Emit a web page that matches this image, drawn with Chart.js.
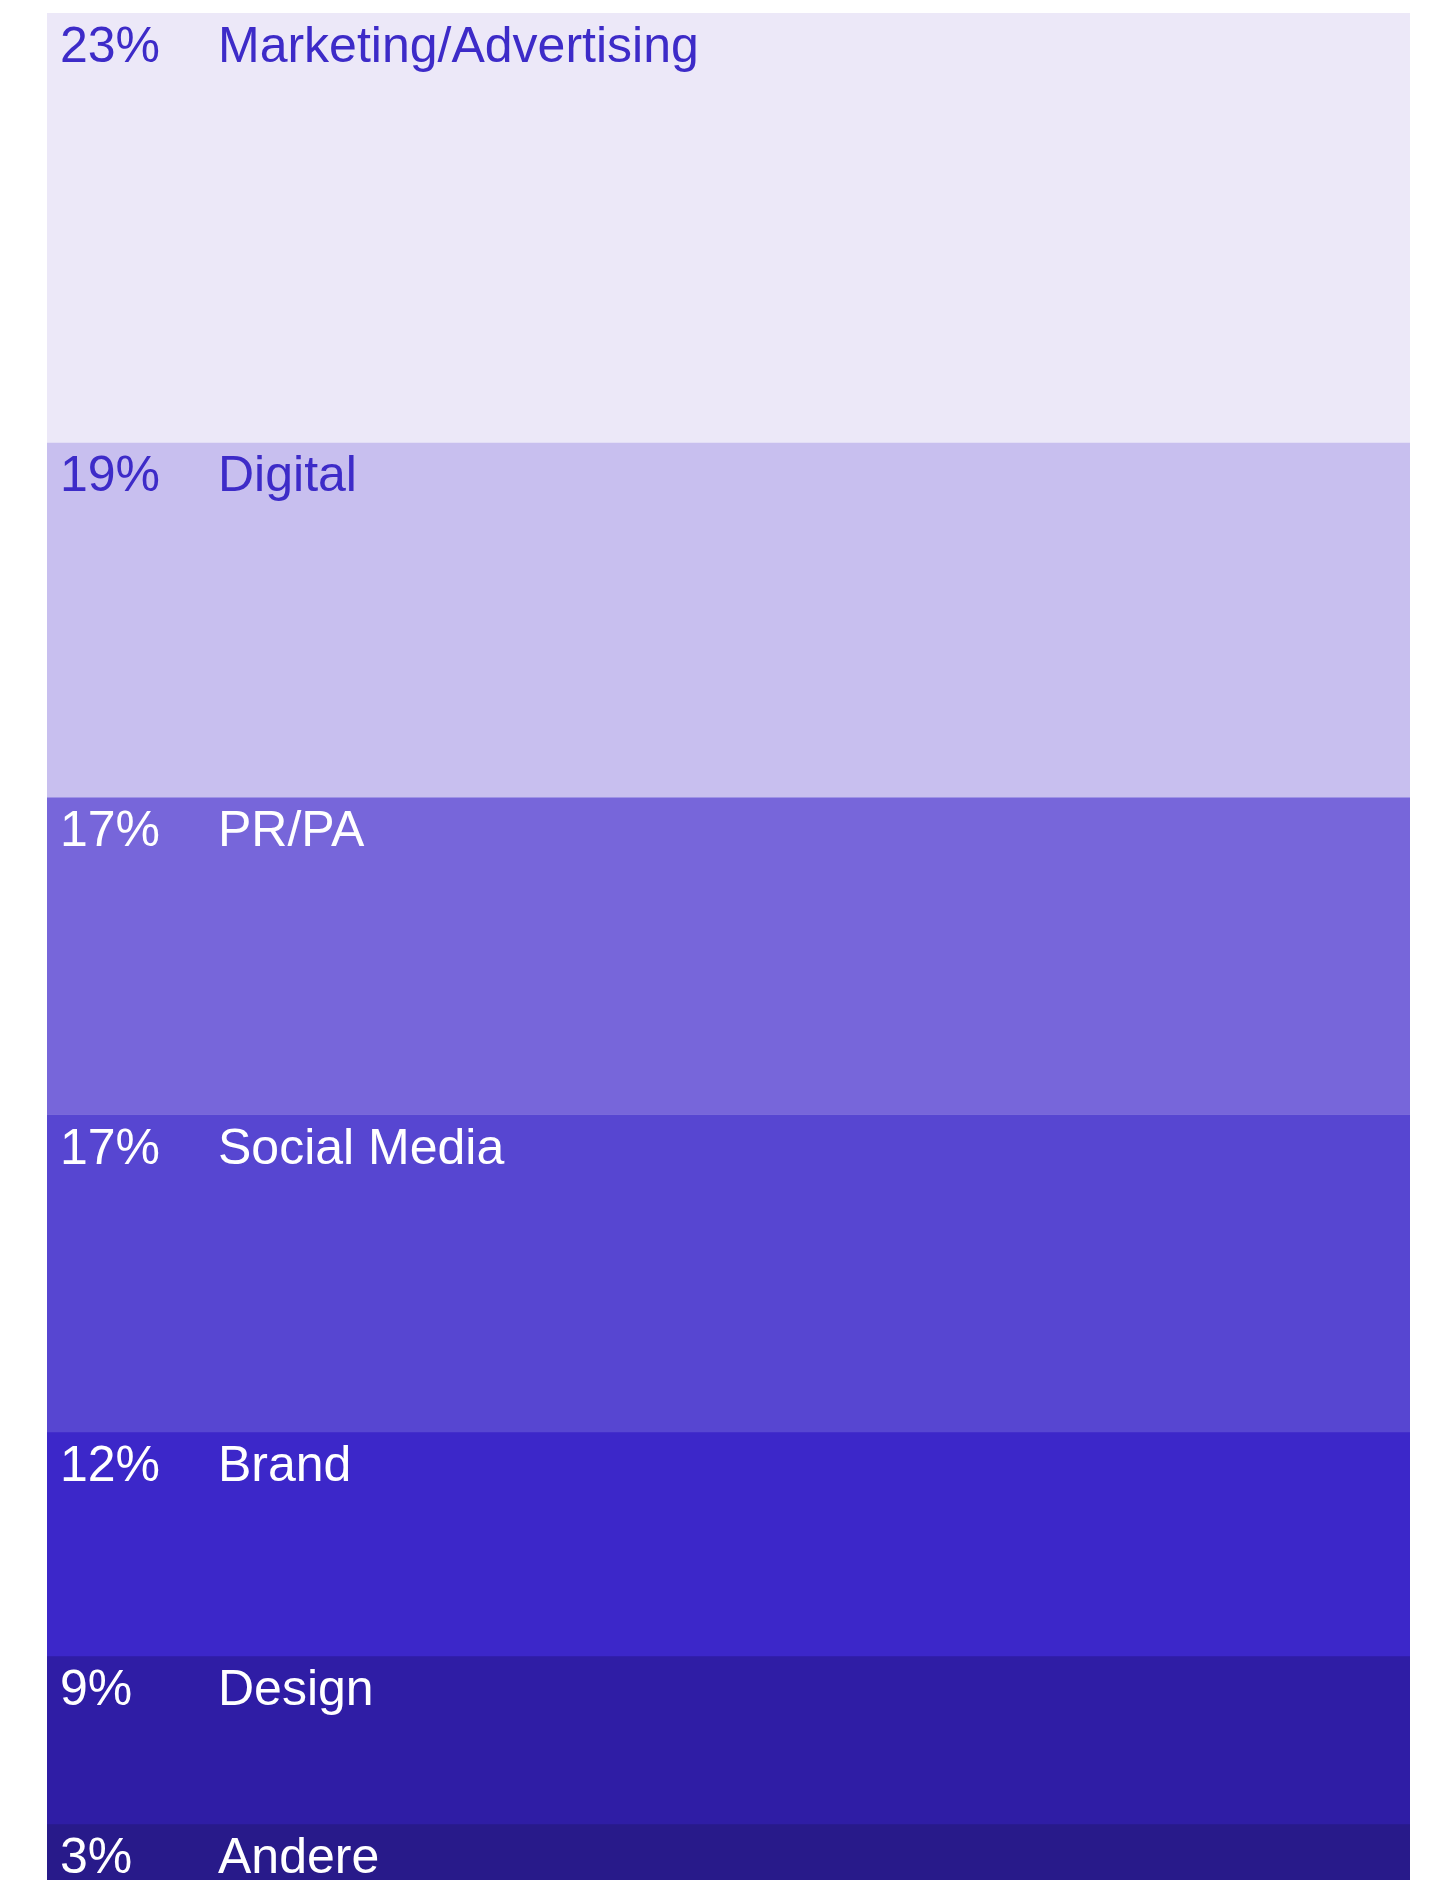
<!DOCTYPE html>
<html>
<head>
<meta charset="utf-8">
<script src="https://cdn.jsdelivr.net/npm/chart.js@4/dist/chart.umd.min.js"></script>
<style>
    html, body { margin: 0; padding: 0; background: #fff; }
    #wrap { width: 1434px; height: 1888px; position: relative; }
</style>
</head>
<body>
<div id="wrap"><canvas id="shareChart"></canvas></div>
<script>
var categories = ["Marketing/Advertising", "Digital", "PR/PA", "Social Media", "Brand", "Design", "Andere"];
var shares = [23, 19, 17, 17, 12, 9, 3];
var bandColors = ["#ece8f8", "#c8bfef", "#7766da", "#5746d1", "#3c27c9", "#2f1da5", "#281a8a"];
var textColors = ["#3d2bc8", "#3d2bc8", "#ffffff", "#ffffff", "#ffffff", "#ffffff", "#ffffff"];

var datasets = [];
for (var i = 0; i < categories.length; i++) {
    datasets.push({
        label: categories[i],
        data: [shares[i]],
        backgroundColor: bandColors[i],
        hoverBackgroundColor: bandColors[i],
        borderWidth: 0,
        barPercentage: 1,
        categoryPercentage: 1
    });
}

// writes "23%   Marketing/Advertising" in the top left corner of each band
var bandLabels = {
    id: 'bandLabels',
    afterDatasetsDraw: function (chart) {
        var ctx = chart.ctx;
        ctx.save();
        ctx.font = '50px "Liberation Sans", Arial, sans-serif';
        ctx.textBaseline = 'alphabetic';
        ctx.textAlign = 'left';
        chart.data.datasets.forEach(function (ds, i) {
            var bar = chart.getDatasetMeta(i).data[0];
            var left = bar.x - bar.width / 2;
            var top = Math.min(bar.y, bar.base);
            ctx.fillStyle = textColors[i];
            ctx.fillText(shares[i] + '%', left + 13, top + 49);
            ctx.fillText(categories[i], left + 171, top + 49);
        });
        ctx.restore();
    }
};

var shareCtx = document.getElementById("shareChart");

var shareChart = new Chart(shareCtx, {
    type: 'bar',
    data: {
        labels: ["Anteil"],
        datasets: datasets
    },
    options: {
        responsive: true,
        maintainAspectRatio: false,
        animation: false,
        layout: {
            padding: { left: 47, right: 24, top: 13, bottom: 8 }
        },
        plugins: {
            legend: { display: false },
            tooltip: { enabled: false }
        },
        scales: {
            x: { stacked: true, display: false },
            y: { stacked: true, display: false, reverse: true, min: 0, max: 100 }
        }
    },
    plugins: [bandLabels]
});
</script>
</body>
</html>
